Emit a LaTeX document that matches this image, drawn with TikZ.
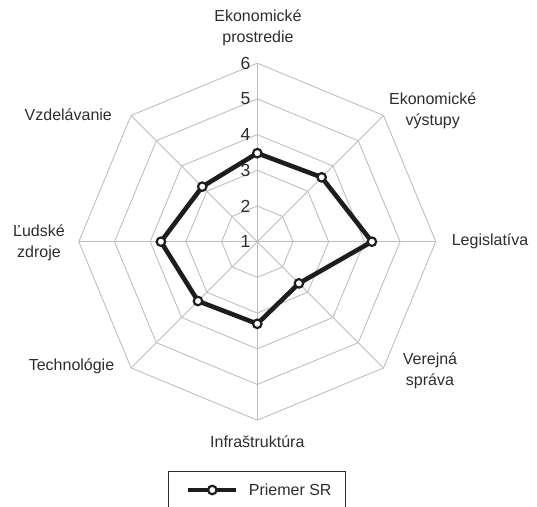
\documentclass[tikz,border=0pt]{standalone}
\usepackage{fontspec}
\setmainfont{Liberation Sans}
\usetikzlibrary{calc}
\definecolor{gridgray}{RGB}{190,190,190}
\definecolor{labelgray}{RGB}{45,45,45}
\definecolor{seriesblack}{RGB}{30,28,28}

\tikzset{
  gridline/.style={draw=gridgray, line width=0.9pt},
  dataline/.style={draw=seriesblack, line width=4.6pt, line join=miter},
  marker/.style={circle, draw=seriesblack, fill=white, line width=2.2pt,
    inner sep=0pt, minimum size=8.5pt},
  axislabel/.style={align=center, text=labelgray},
}

\begin{document}
\begin{tikzpicture}[x=1pt, y=1pt, font=\fontsize{16}{21}\selectfont]
    \clip (-257.3,-264.3) rectangle (279.7,241.7);
    \coordinate (O) at (0,0);
    % the web
    \foreach \r in {1,...,5}
      \draw [gridline] (90:\r*35.7) \foreach \a in {45,0,...,-225} { -- (\a:\r*35.7) } -- cycle;
    \foreach \a in {90,45,...,-225}
      \draw [gridline] (O) -- (\a:178.5);
    \foreach \v in {1,...,6}
      \node (n\v) [anchor=east, text=labelgray, font=\fontsize{17.5}{20}\selectfont] at (-3.5,{(\v-1)*35.7}) {\v};
    % axis names
    \node (prostredie) [axislabel] at (0.7,214) {Ekonomické\\prostredie};
    \node (vystupy) [axislabel] at (175.4,131) {Ekonomické\\výstupy};
    \node (legislativa) [axislabel, anchor=west] at (191,0) {Legislatíva};
    \node (sprava) [axislabel] at (172.7,-129.5) {Verejná\\správa};
    \node (infra) [axislabel] at (0,-200) {Infraštruktúra};
    \node (techno) [axislabel] at (-185.8,-125) {Technológie};
    \node (zdroje) [axislabel] at (-218.3,-0.7) {Ľudské\\zdroje};
    \node (vzdel) [axislabel] at (-189,126.7) {Vzdelávanie};
    % the series
    \foreach \a/\v [count=\i] in {90/3.48,45/3.55,0/4.21,-45/2.65,-90/3.3,-135/3.35,180/3.7,135/3.18}
      \coordinate (p\i) at (\a:{(\v-1)*35.7});
    \draw [dataline] (p1) -- (p2) -- (p3) -- (p4) -- (p5) -- (p6) -- (p7) -- (p8) -- cycle;
    \foreach \i in {1,...,8}
      \node (m\i) [marker] at (p\i) {};
    % legend
    \draw [draw=labelgray, line width=1pt] (-89,-275) -- (-89,-230) -- (87.7,-230) -- (87.7,-275);
    \coordinate (l1) at (-69,-248.3);
    \coordinate (l2) at (-21,-248.3);
    \draw [dataline] (l1) -- (l2);
    \node (lm) [marker] at ($(l1)!0.5!(l2)$) {};
    \node (legtext) [anchor=west, text=labelgray] at (-12,-248.3) {Priemer SR};
  \end{tikzpicture}
\end{document}
